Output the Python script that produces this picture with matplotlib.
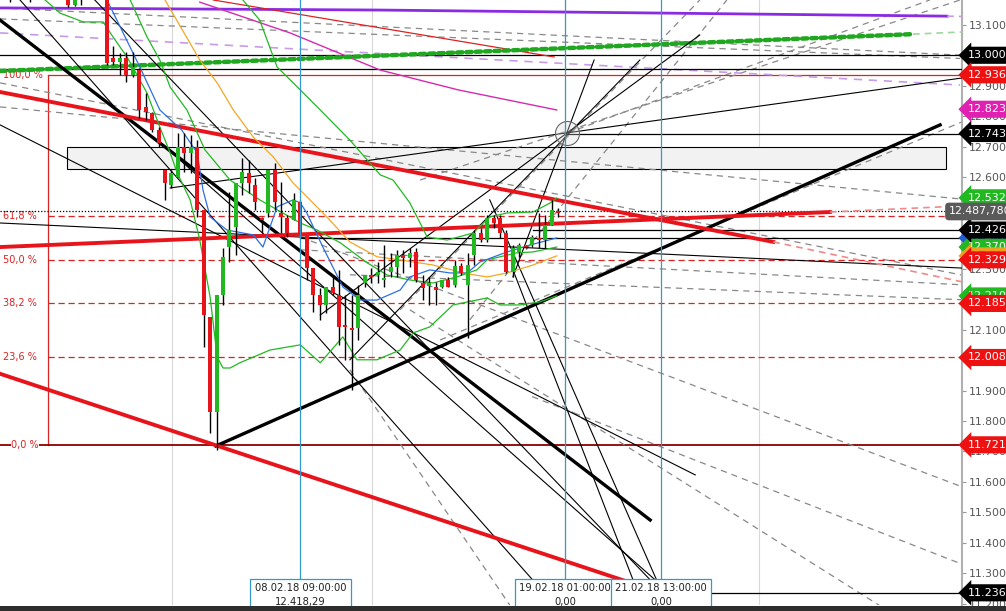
import matplotlib
matplotlib.use("Agg")
import matplotlib.pyplot as plt
import matplotlib.transforms as mtransforms
import numpy as np

# ---- candles (4h bars), x = bar index ----
first_bar = -16
opens = [13230, 13215, 13205, 13225, 13210, 13200, 13215, 13220, 13230, 13212,
         13225, 13166, 13200, 13205, 13215, 13205,
         13198, 12992, 12979, 12992, 12936, 12952, 12831, 12811, 12755, 12624,
         12575, 12601, 12700, 12680, 12700, 12493, 12142, 11830, 12214, 12371,
         12437, 12581, 12614, 12575, 12467, 12483, 12624, 12483, 12467, 12460,
         12519, 12417, 12302, 12214, 12181, 12240, 12214, 12115, 12106, 12106,
         12253, 12280, 12280, 12263, 12289, 12306, 12345, 12335, 12355, 12253,
         12244, 12240, 12240, 12263, 12247, 12309, 12247, 12345, 12417, 12394,
         12467, 12467, 12417, 12289, 12355, 12375, 12378, 12401, 12394, 12444,
         12490]
highs = [13260, 13235, 13240, 13250, 13230, 13225, 13240, 13245, 13250, 13235,
         13240, 13210, 13215, 13230, 13235, 13225,
         13208, 13031, 13008, 13011, 13011, 12959, 12877, 12814, 12765, 12624,
         12624, 12746, 12746, 12739, 12723, 12493, 12142, 12214, 12368, 12552,
         12581, 12663, 12657, 12598, 12470, 12624, 12647, 12585, 12476, 12549,
         12526, 12417, 12302, 12237, 12240, 12273, 12296, 12214, 12214, 12247,
         12280, 12302, 12322, 12378, 12352, 12362, 12362, 12368, 12368, 12280,
         12273, 12257, 12263, 12273, 12329, 12319, 12352, 12427, 12434, 12476,
         12476, 12476, 12427, 12378, 12385, 12378, 12411, 12483, 12476, 12526,
         12499]
lows = [13200, 13176, 13195, 13200, 13175, 13190, 13195, 13200, 13205, 13190,
        13160, 13162, 13165, 13190, 13192, 13190,
        12970, 12969, 12936, 12913, 12929, 12795, 12788, 12749, 12700, 12526,
        12565, 12601, 12618, 12614, 12470, 12043, 11761, 11705, 12181, 12322,
        12345, 12542, 12549, 12493, 12417, 12470, 12493, 12417, 12404, 12460,
        12417, 12263, 12158, 12132, 12155, 12214, 12050, 12001, 11902, 12066,
        12240, 12253, 12253, 12240, 12273, 12273, 12286, 12306, 12257, 12198,
        12181, 12181, 12237, 12240, 12240, 12280, 12073, 12312, 12388, 12388,
        12434, 12401, 12286, 12273, 12339, 12368, 12371, 12368, 12368, 12444,
        12470]
closes = [13215, 13205, 13225, 13210, 13200, 13215, 13220, 13230, 13212, 13220,
          13166, 13200, 13205, 13215, 13205, 13198,
          12975, 12979, 12992, 12936, 12962, 12821, 12814, 12755, 12713, 12581,
          12614, 12700, 12680, 12700, 12493, 12148, 11830, 12214, 12339, 12427,
          12581, 12617, 12581, 12519, 12460, 12624, 12519, 12470, 12417, 12526,
          12418, 12302, 12214, 12181, 12240, 12220, 12109, 12109, 12099, 12214,
          12280, 12273, 12289, 12270, 12306, 12345, 12335, 12352, 12263, 12237,
          12253, 12230, 12263, 12240, 12309, 12286, 12312, 12417, 12394, 12467,
          12450, 12417, 12289, 12368, 12378, 12371, 12404, 12394, 12444, 12493,
          12483]

# ---- indicators: (bar index, price) ----
blue_x = [0, 5.1, 8.2, 11.6, 14.0, 14.9, 16.0, 18.6, 22.7, 24.2, 26.4, 28.9, 30.0, 31.0,
          33.5, 36.6, 39.3, 41.9, 45.5, 47.0, 50.1, 53.2, 55.9, 57.9, 62.1, 65.7, 69.8]
blue_y = [13182, 12962, 12821, 12755, 12680, 12558, 12470, 12427, 12411, 12371, 12503,
          12526, 12516, 12483, 12371, 12240, 12197, 12197, 12230, 12273, 12296, 12286,
          12286, 12322, 12355, 12378, 12401]
orange_x = [9.0, 14.4, 17.1, 19.6, 22.7, 25.8, 28.9, 31.5, 34.1, 37.7, 41.9, 45.5, 50.6,
            55.9, 59.0, 62.1, 66.1, 69.8]
orange_y = [13182, 12985, 12910, 12821, 12732, 12667, 12581, 12526, 12470, 12388, 12339,
            12329, 12312, 12283, 12273, 12286, 12312, 12342]
band_lo_x = [-9.6, -7.3, -3.7, -0.6, 0.5, 3.1, 6.2, 8.2, 9.8, 10.9, 12.9, 14.4, 16.0, 17.1,
             18.0, 19.1, 20.6, 25.3, 30.0, 33.1, 36.6, 38.8, 41.9, 45.5, 47.5, 50.1, 53.7,
             59.0, 61.0, 64.1, 67.2, 69.8]
band_lo_y = [13182, 13139, 13110, 13110, 13074, 12995, 12877, 12765, 12680, 12614, 12526,
             12394, 12207, 12010, 11974, 11974, 11991, 12033, 12050, 11991, 12076, 12001,
             12001, 12033, 12089, 12109, 12181, 12204, 12181, 12181, 12191, 12211]
band_up_x = [21.1, 23.7, 26.4, 28.9, 33.1, 37.7, 42.4, 44.4, 47.0, 49.7, 52.8, 56.8, 59.4,
             62.1, 66.1, 68.8, 69.8]
band_up_y = [13182, 13116, 12962, 12910, 12821, 12722, 12608, 12591, 12516, 12404, 12394,
             12417, 12470, 12483, 12486, 12516, 12532]
band_mid_x = [3.6, 6.2, 8.2, 9.8, 12.4, 15.2, 19.1, 23.7, 30.0, 32.6, 36.2, 40.4, 43.5,
              47.0, 50.6, 54.3, 57.4, 59.0, 63.6, 66.1, 69.8]
band_mid_y = [13182, 13061, 12985, 12896, 12821, 12690, 12591, 12526, 12450, 12427, 12385,
              12319, 12279, 12263, 12253, 12273, 12296, 12329, 12352, 12355, 12371]
magenta_x = [14.4, 28.4, 42.4, 54.5, 69.8]
magenta_y = [13175, 13074, 12952, 12887, 12821]

# ---- fibonacci ----
fib_hi, fib_lo = 12936.54, 11721.83
fib_levels = [0.0, 0.236, 0.382, 0.5, 0.618, 1.0]
fib_names = ["0,0 %", "23,6 %", "38,2 %", "50,0 %", "61,8 %", "100,0 %"]
fib_left = -9.16

# ---- drawings: ((x0, p0), (x1, p1)) ----
red_thick = [((-16.6, 12880), (103.4, 12388)),
             ((-16.6, 12371), (112.2, 12486)),
             ((-16.6, 11955), (82.7, 11259))]
red_faded = [((103.4, 12388), (132.7, 12257)),
             ((112.2, 12486), (132.7, 12506))]
red_thin = [((16.5, 13182), (69.4, 12995))]
black_thick = [((16.9, 11718), (129.3, 12772)),
               ((-16.6, 13116), (84.3, 11475))]
black_thin = [((-16.6, 12450), (132.7, 12302)),
              ((9.8, 12565), (132.7, 12926)),
              ((33.1, 12148), (92.0, 13067)),
              ((37.7, 12001), (82.7, 12985)),
              ((63.0, 12273), (75.6, 12985)),
              ((59.4, 12526), (87.4, 11177)),
              ((63.3, 12280), (83.5, 11177)),
              ((11.3, 12657), (90.5, 11177)),
              ((-13.5, 13182), (70.3, 11177)),
              ((-1.9, 13182), (88.9, 11177)),
              ((-16.6, 12772), (91.3, 11623))]
gray_dashed = [((-16.6, 13156), (132.4, 13001)),
               ((-16.6, 13120), (132.4, 12990)),
               ((-16.6, 12831), (132.4, 12529)),
               ((-16.6, 12910), (132.7, 12279)),
               ((51.7, 12066), (132.7, 12782)),
               ((30.0, 12404), (132.7, 11584)),
               ((47.0, 12165), (121.2, 11177)),
               ((37.7, 11968), (62.5, 11196)),
               ((45.5, 12165), (92.0, 13182)),
               ((56.3, 12132), (96.2, 13182)),
               ((48.6, 12591), (132.4, 13182)),
               ((71.4, 12745), (127.7, 13182)),
               ((30.0, 12362), (132.7, 12247)),
               ((37.7, 12280), (132.7, 12198)),
               ((66.0, 11880), (132.7, 11330))]
purple_thick = [(-16.6, 13156), (42.4, 13149), (130.4, 13129)]
purple_dashed = [((-16.6, 13074), (132.4, 12903))]
green_dotted = [((-16.6, 12949), (125.1, 13070))]
hlines = [(13000.57, -16.6), (12956, -16.6), (12743.75, 71.4), (12426.78, 66.1),
          (12400, 30.0), (11236.05, 86.0)]
last_price = 12487.78
zone = (-6.2, 130.2, 12627, 12700)
vlines_blue = [30.0, 71.1, 86.0]
vlines_grid = [10.1, 41.1, 71.1, 101.2]
time_tags = [(30.0, "08.02.18 09:00:00\n12.418,29"),
             (71.1, "19.02.18 01:00:00\n0,00"),
             (86.0, "21.02.18 13:00:00\n0,00")]
circles = [(71.4, 12745, 300), (85.5, 11203, 520)]
price_tags = [(12401, "12.401,93", "#1f5fd6"), (12371, "12.370,70", "#22b822"),
              (12342, "12.342,10", "#f0a020"),
              (13000.57, "13.000,57", "black"), (12936.54, "12.936,54", "#ee1111"),
              (12823.4, "12.823,40", "#e020b0"), (12743.75, "12.743,75", "black"),
              (12532.7, "12.532,70", "#22b822"), (12426.78, "12.426,78", "black"),
              (12329.18, "12.329,18", "#ee1111"), (12210.5, "12.210,50", "#22b822"),
              (12185.85, "12.185,85", "#ee1111"), (12008.50, "12.008,50", "#ee1111"),
              (11721.83, "11.721,83", "#ee1111"), (11236.05, "11.236,05", "black")]


def de(v, nd=2):
    s = f"{v:,.{nd}f}"
    return s.replace(",", "X").replace(".", ",").replace("X", ".")


W, H = 1006, 611
fig = plt.figure(figsize=(W / 100, H / 100), dpi=100)
ax = fig.add_axes([0, 6 / H, 962 / W, 605 / H])
ax.set_xlim(-16.61, 132.7)
ax.set_ylim(11196, 13182)
for s in ["top", "left", "bottom"]:
    ax.spines[s].set_visible(False)
ax.spines["right"].set_color("#b0b0b0")
ax.spines["right"].set_linewidth(1.5)
ax.set_xticks([])
ax.yaxis.tick_right()
ax.set_yticks(np.arange(11200, 13101, 100))
ax.set_yticklabels([de(t) for t in np.arange(11200, 13101, 100)])
ax.tick_params(axis="y", length=3, color="#999999", labelsize=7.8,
               labelcolor="#555555", pad=2)

# grid + zone
for g in vlines_grid:
    ax.axvline(g, color="#d8d8d8", lw=0.8, zorder=0)
ax.add_patch(plt.Rectangle((zone[0], zone[2]), zone[1] - zone[0], zone[3] - zone[2],
                           fc="#f2f2f2", ec="black", lw=0.8, zorder=1))

# fibonacci
fib_col = "#dd2222"
rng = fib_hi - fib_lo
ax.plot([fib_left, fib_left], [fib_lo, fib_hi], color=fib_col, lw=0.9, zorder=2)
for lv, nm in zip(fib_levels, fib_names):
    p = fib_lo + lv * rng
    if lv == 1.0:
        ax.plot([fib_left, 132.7], [p, p], color=fib_col, lw=0.9, zorder=2)
    elif lv == 0.0:
        ax.plot([-16.6, 132.7], [p, p], color="#8b0000", lw=1.3, zorder=2)
    else:
        ax.plot([fib_left, 132.7], [p, p], color=fib_col, lw=0.9, ls=(0, (5, 3)), zorder=2)
    ax.text(-16.2 if lv != 0.0 else -14.9, p, nm, color=fib_col, fontsize=7, va="center",
            ha="left", zorder=3,
            bbox=dict(fc="white", ec="none", pad=0.2) if lv == 0.0 else None)

# horizontal lines
for p, x0 in hlines:
    ax.plot([x0, 132.7], [p, p], color="black", lw=0.9, zorder=3)
ax.plot([-16.6, 132.7], [last_price, last_price], color="black", lw=0.9,
        ls=(0, (1, 1.5)), zorder=3)

for (a, b) in gray_dashed:
    ax.plot([a[0], b[0]], [a[1], b[1]], color="#888888", lw=0.9, ls=(0, (5, 4)), zorder=2)
for (a, b) in purple_dashed:
    ax.plot([a[0], b[0]], [a[1], b[1]], color="#c89be8", lw=1.2, ls=(0, (5, 4)), zorder=2)
px, py = zip(*purple_thick)
ax.plot(px, py, color="#8a2be2", lw=2, zorder=3)
ax.plot([130.4, 132.7], [13129, 13128], color="#c89be8", lw=1.2, ls=(0, (4, 3)), zorder=3)
for (a, b) in green_dotted:
    ax.plot([a[0], b[0]], [a[1], b[1]], color="#1fa81f", lw=3.2, ls=(0, (1.2, 0.9)),
            dash_capstyle="round", zorder=4)
    ax.plot([b[0], 132.7], [b[1], 13077], color="#9bd89b", lw=1.2, ls=(0, (4, 3)), zorder=4)
for (a, b) in red_thin:
    ax.plot([a[0], b[0]], [a[1], b[1]], color="#dd2222", lw=0.9, zorder=3)
ax.plot(magenta_x, magenta_y, color="#d62ab0", lw=1.0, zorder=3)

for (a, b) in black_thin:
    ax.plot([a[0], b[0]], [a[1], b[1]], color="black", lw=0.8, zorder=4)
for (a, b) in black_thick:
    ax.plot([a[0], b[0]], [a[1], b[1]], color="black", lw=2.4, zorder=5)
for (a, b) in red_thick:
    ax.plot([a[0], b[0]], [a[1], b[1]], color="#e8141c", lw=2.8, zorder=5)
for (a, b) in red_faded:
    ax.plot([a[0], b[0]], [a[1], b[1]], color="#f08a8a", lw=1.2, ls=(0, (4, 3)), zorder=5)

# indicators
ax.plot(band_lo_x, band_lo_y, color="#22b822", lw=0.9, zorder=6)
ax.plot(band_up_x, band_up_y, color="#22b822", lw=0.9, zorder=6)
ax.plot(band_mid_x, band_mid_y, color="#22b822", lw=0.9, zorder=6)
ax.plot(orange_x, orange_y, color="#f5a623", lw=0.9, zorder=6)
ax.plot(blue_x, blue_y, color="#2d6fe0", lw=0.9, zorder=6)

# candles
idx = np.arange(first_bar, first_bar + len(opens))
o, h, l, c = map(np.array, (opens, highs, lows, closes))
up = c >= o
ax.vlines(idx, l, h, color="black", lw=1.0, zorder=7)
body_lo = np.minimum(o, c)
body_h = np.maximum(np.abs(c - o), 5)
ax.bar(idx, body_h, bottom=body_lo, width=0.62,
       color=np.where(up, "#22b822", "#e8141c"), zorder=8)

# circles
for cx, cy, s in circles:
    ax.scatter([cx], [cy], s=s, facecolor=(0.85, 0.85, 0.85, 0.3), edgecolor="#666666",
               lw=0.8, zorder=9)

# vertical time markers
for v in vlines_blue:
    ax.axvline(v, color="#3399cc", lw=0.9, zorder=9)
for v, t in time_tags:
    ax.text(v, 11268, t, fontsize=7.2, ha="center", va="top", linespacing=1.5,
            color="#222222", zorder=12,
            bbox=dict(boxstyle="square,pad=0.45", fc="white", ec="#3399cc", lw=0.9))

# price tags on the axis
tr = mtransforms.offset_copy(mtransforms.blended_transform_factory(ax.transAxes, ax.transData),
                             fig=fig, x=6, y=0, units="dots")
for p, t, col in price_tags:
    ax.text(1.0, p, t, transform=tr, fontsize=8, color="white", ha="left",
            va="center", clip_on=False, zorder=20,
            bbox=dict(boxstyle="larrow,pad=0.32", fc=col, ec="none"))
tr2 = mtransforms.offset_copy(mtransforms.blended_transform_factory(ax.transAxes, ax.transData),
                              fig=fig, x=-13, y=0, units="dots")
ax.text(1.0, last_price, de(last_price, 3), transform=tr2, fontsize=7.9, color="white",
        ha="left", va="center", clip_on=False, zorder=21,
        bbox=dict(boxstyle="round,pad=0.35", fc="#5a5a5a", ec="none"))

fig.patches.append(plt.Rectangle((0, 0), 1, 5 / H, transform=fig.transFigure,
                                 fc="#2e2e2e", ec="none"))

fig.savefig("out.png", dpi=100)
